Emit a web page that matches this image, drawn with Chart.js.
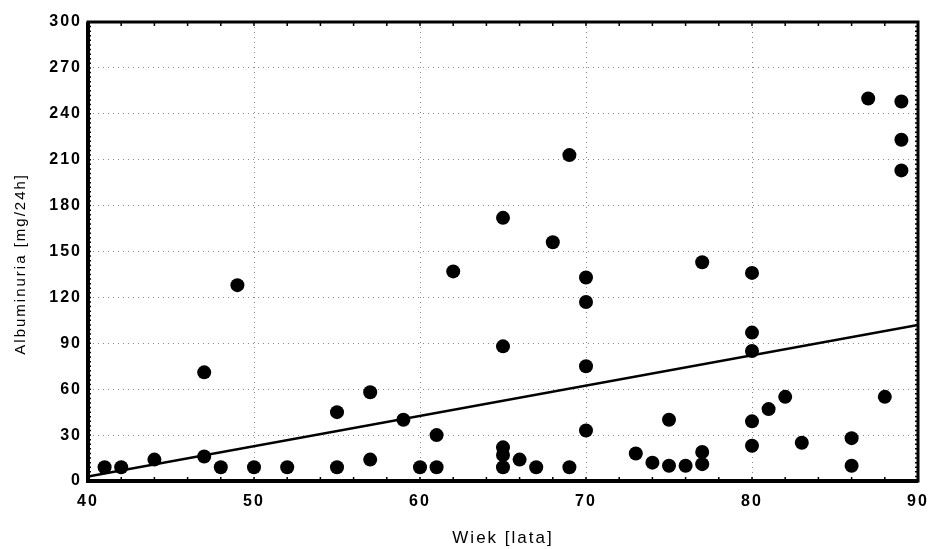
<!DOCTYPE html>
<html>
<head>
<meta charset="utf-8">
<script src="https://cdn.jsdelivr.net/npm/chart.js@4"></script>
<style>
  html, body { margin: 0; padding: 0; background: #fff; }
  #wrap { width: 936px; height: 549px; }
</style>
</head>
<body>
<div id="wrap"><canvas id="myChart" width="936" height="549"></canvas></div>
<script>
// age [years] and albuminuria [mg/24h]
const ages = [41, 42, 44, 47, 47, 48, 49, 50, 52, 55, 55, 57, 57, 59, 60, 61, 61, 62,
  65, 65, 65, 65, 65, 66, 67, 68, 69, 69, 70, 70, 70, 70,
  73, 74, 75, 75, 76, 77, 77, 77, 80, 80, 80, 80, 80, 81, 82, 83, 86, 86, 87, 88, 89, 89, 89];
const albumin = [9, 9, 14, 16, 71, 9, 128, 9, 9, 45, 9, 58, 14, 40, 9, 9, 30, 137,
  172, 88, 22, 17, 9, 14, 9, 156, 213, 9, 133, 117, 75, 33,
  18, 12, 40, 10, 10, 143, 19, 11, 136, 97, 85, 39, 23, 47, 55, 25, 28, 10, 250, 55, 248, 223, 203];
// regression line end points
const fitX = [40, 90];
const fitY = [3, 102];
const xTicks = [40, 50, 60, 70, 80, 90];
const yTicks = [0, 30, 60, 90, 120, 150, 180, 210, 240, 270, 300];

const points = ages.map((a, i) => ({ x: a, y: albumin[i] }));
const fitLine = fitX.map((a, i) => ({ x: a, y: fitY[i] }));

// the scanned lettering is widely spaced
const spacingPlugin = {
  id: "spacing",
  beforeUpdate(chart) { chart.ctx.letterSpacing = "2px"; },
  beforeDraw(chart) { chart.ctx.letterSpacing = "2px"; }
};

// black frame and small inward ticks around the plot
const framePlugin = {
  id: "frame",
  afterDatasetsDraw(chart) {
    const { ctx, chartArea: a, scales } = chart;
    ctx.save();
    ctx.strokeStyle = "#000";
    ctx.lineWidth = 1.5;
    for (let v = 42; v < 90; v += 2) {
      const px = scales.x.getPixelForValue(v);
      ctx.beginPath();
      ctx.moveTo(px, a.bottom);
      ctx.lineTo(px, a.bottom - 4);
      ctx.moveTo(px, a.top);
      ctx.lineTo(px, a.top + 4);
      ctx.stroke();
    }
    for (let v = 3; v < 300; v += 3) {
      const py = scales.y.getPixelForValue(v);
      ctx.beginPath();
      ctx.moveTo(a.left, py);
      ctx.lineTo(a.left + 3, py);
      ctx.moveTo(a.right, py);
      ctx.lineTo(a.right - 3, py);
      ctx.stroke();
    }
    ctx.lineWidth = 3;
    ctx.strokeRect(a.left, a.top, a.right - a.left, a.bottom - a.top);
    ctx.lineWidth = 4;
    ctx.beginPath();
    ctx.moveTo(a.left, a.top);
    ctx.lineTo(a.left, a.bottom);
    ctx.lineTo(a.right, a.bottom);
    ctx.stroke();
    ctx.restore();
  }
};

const ctx = document.getElementById("myChart").getContext("2d");
const myChart = new Chart(ctx, {
  type: "scatter",
  data: {
    datasets: [
      {
        label: "pacjenci",
        data: points,
        backgroundColor: "#000",
        borderWidth: 0,
        pointRadius: 7,
        pointHoverRadius: 7
      },
      {
        type: "line",
        label: "regresja",
        data: fitLine,
        borderColor: "#000",
        borderWidth: 2.5,
        pointRadius: 0,
        fill: false
      }
    ]
  },
  plugins: [spacingPlugin, framePlugin],
  options: {
    responsive: false,
    animation: false,
    layout: { padding: { left: 0, top: 22, right: 18, bottom: 0 } },
    plugins: { legend: { display: false }, tooltip: { enabled: false } },
    scales: {
      x: {
        type: "linear",
        min: 40,
        max: 90,
        afterBuildTicks: (s) => { s.ticks = xTicks.map((v) => ({ value: v })); },
        afterFit: (s) => { s.height = 68; s.paddingLeft = 0; s.paddingRight = 0; },
        grid: { color: "#888", drawTicks: false, lineWidth: 1 },
        border: { display: false, dash: [1, 4] },
        ticks: {
          color: "#000",
          padding: 11,
          font: { family: "Liberation Sans", size: 16, weight: "bold" }
        },
        title: {
          display: true,
          text: "Wiek [lata]",
          color: "#000",
          padding: { top: 0, bottom: 0 },
          font: { family: "Liberation Sans", size: 17 }
        }
      },
      y: {
        min: 0,
        max: 300,
        afterBuildTicks: (s) => { s.ticks = yTicks.map((v) => ({ value: v })); },
        afterFit: (s) => { s.width = 88; s.paddingTop = 0; s.paddingBottom = 0; },
        grid: { color: "#888", drawTicks: false, lineWidth: 1 },
        border: { display: false, dash: [1, 4] },
        ticks: {
          color: "#000",
          padding: 6,
          font: { family: "Liberation Sans", size: 16, weight: "bold" }
        },
        title: {
          display: true,
          text: "Albuminuria [mg/24h]    ",
          color: "#000",
          padding: { top: 12, bottom: 0 },
          font: { family: "Liberation Sans", size: 15 }
        }
      }
    }
  }
});
</script>
</body>
</html>
